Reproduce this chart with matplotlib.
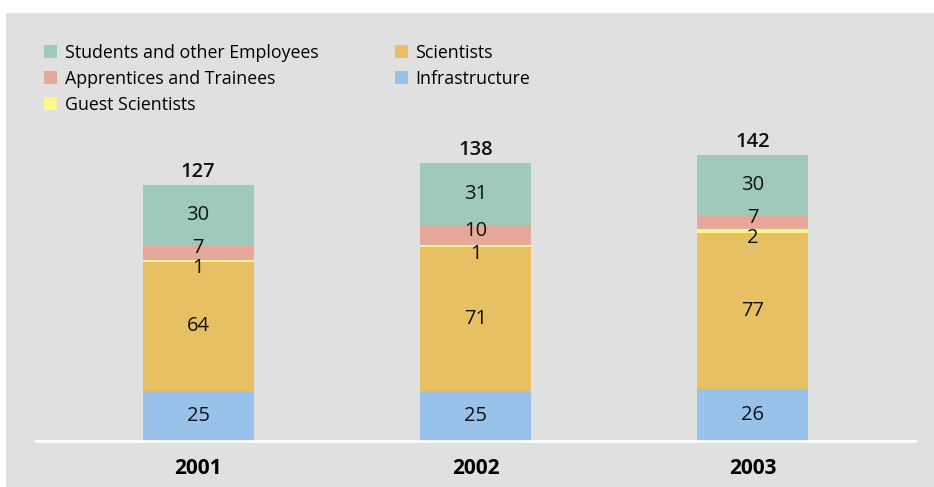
import numpy as np
import matplotlib.pyplot as plt
from matplotlib.patches import Rectangle, Patch

plt.rcParams['font.family'] = ['Open Sans', 'DejaVu Sans']

years = ['2001', '2002', '2003']
infrastructure = [25, 25, 26]
scientists = [64, 71, 77]
guest = [1, 1, 2]
apprentices = [7, 10, 7]
students = [30, 31, 30]

series = [
    ('Infrastructure', infrastructure, '#98c2ea'),
    ('Scientists', scientists, '#e8c064'),
    ('Guest Scientists', guest, '#fdf78e'),
    ('Apprentices and Trainees', apprentices, '#e6a89a'),
    ('Students and other Employees', students, '#9fcabb'),
]
# nudge for the labels of the thin segments so they don't sit on each other
label_shift = {'Apprentices and Trainees': 2.0, 'Guest Scientists': -3.5}

W, H = 934, 487
fig = plt.figure(figsize=(W / 100, H / 100), dpi=100)
fig.patch.set_facecolor('white')
# grey panel behind everything
fig.patches.append(Rectangle((6 / W, 0), 1 - 6 / W, (H - 13) / H,
                             transform=fig.transFigure, facecolor='#e0e0e0',
                             edgecolor='none', zorder=-10))

ax = fig.add_axes([36 / W, 46 / H, (915 - 36) / W, (441 - 13) / H])
ax.set_facecolor('none')
ax.set_zorder(5)
x = np.arange(len(years))
width = 0.4

bottom = np.zeros(len(years))
for name, vals, color in series:
    vals = np.array(vals, dtype=float)
    ax.bar(x, vals, width, bottom=bottom, color=color, edgecolor='none', zorder=2)
    for i, v in enumerate(vals):
        yc = bottom[i] + v / 2 + label_shift.get(name, 0)
        ax.text(x[i], yc, f'{int(v)}', ha='center', va='center',
                fontsize=14.5, color='#111111', zorder=3)
    bottom += vals

for i, t in enumerate(bottom):
    ax.annotate(f'{int(t)}', (x[i], t), xytext=(0, 2), textcoords='offset points',
                ha='center', va='bottom', fontsize=14.5, fontweight='semibold',
                color='#111111')

ax.set_xlim(-0.584, 2.584)
ax.set_ylim(0, 428 / 2.016)
ax.set_xticks(x)
ax.set_xticklabels(years, fontsize=15, fontweight='bold')
ax.tick_params(axis='x', length=0, pad=12)
ax.set_yticks([])
for s in ['top', 'right', 'left']:
    ax.spines[s].set_visible(False)
ax.spines['bottom'].set_color('white')
ax.spines['bottom'].set_linewidth(2)

order = ['Students and other Employees', 'Apprentices and Trainees',
         'Guest Scientists', 'Scientists', 'Infrastructure']
cmap = {n: c for n, _, c in series}
handles = [Patch(facecolor=cmap[n], edgecolor='none', label=n) for n in order]
fig.legend(handles=handles, loc='upper left', bbox_to_anchor=(37 / W, 1 - 37 / H),
           ncol=2, frameon=False, fontsize=12.8, handlelength=0.75,
           handleheight=0.75, handletextpad=0.4, labelspacing=0.45,
           columnspacing=4.3, borderaxespad=0)

fig.savefig('out.png', dpi=100)
